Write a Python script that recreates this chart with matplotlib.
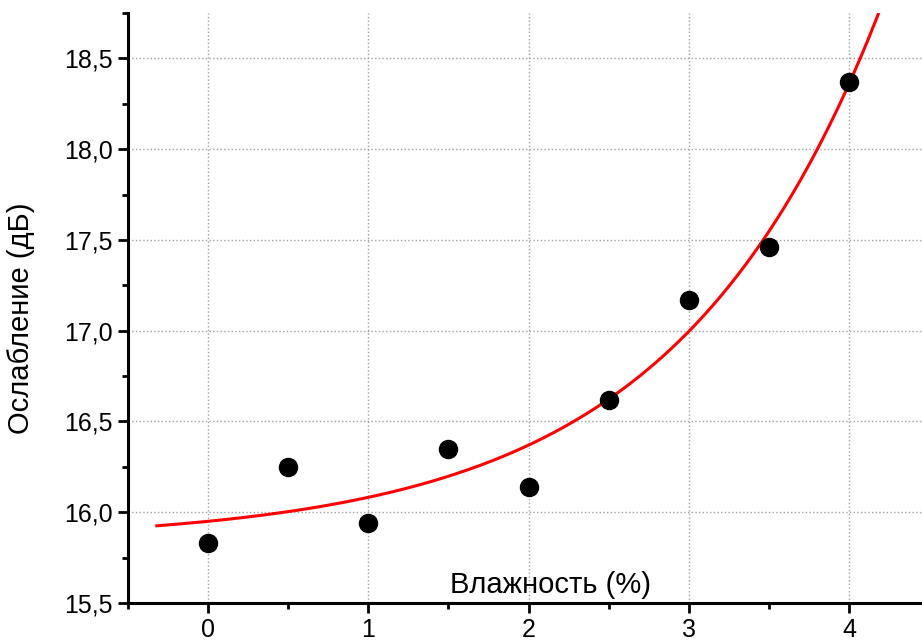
#!/usr/bin/python3
# -*- coding: utf-8 -*-

'''
Attenuation vs humidity with exponential fit
'''

import numpy as np
import matplotlib
matplotlib.use('Agg')
import matplotlib.pyplot as plt
from matplotlib.ticker import MultipleLocator, FuncFormatter

# Measured points
humidity = [0.0, 0.5, 1.0, 1.5, 2.0, 2.5, 3.0, 3.5, 4.0]
attenuation = [15.83, 16.25, 15.94, 16.35, 16.14, 16.62, 17.17, 17.46, 18.37]

x_ticks = [0, 1, 2, 3, 4]
y_ticks = [15.5, 16.0, 16.5, 17.0, 17.5, 18.0, 18.5]


def exp_fit(x, y):
    '''
    Least squares fit of y = y0 + A*exp(x/t), grid search over t
    '''
    x = np.asarray(x)
    y = np.asarray(y)
    best = None
    for t in np.linspace(0.3, 5, 2000):
        m = np.column_stack([np.ones_like(x), np.exp(x / t)])
        coef, *_ = np.linalg.lstsq(m, y, rcond=None)
        err = np.sum((m @ coef - y) ** 2)
        if best is None or err < best[0]:
            best = (err, coef[0], coef[1], t)
    return best[1:]


def main():
    '''
    Main function
    '''
    plt.rcParams['font.family'] = ['Liberation Sans', 'DejaVu Sans']
    fig = plt.figure(figsize=(9.22, 6.41), dpi=100)
    ax = fig.add_axes([128 / 922, 1 - 603 / 641, 1 - 128 / 922, (603 - 13) / 641])

    y0, a, t = exp_fit(humidity, attenuation)
    xs = np.linspace(-0.32, 4.4, 300)
    ax.plot(xs, y0 + a * np.exp(xs / t), color='red', lw=2.2, zorder=3)
    ax.plot(humidity, attenuation, 'o', color='black', ms=13, zorder=4)

    ax.set_xlim(-0.5, 4.455)
    ax.set_ylim(15.5, 18.75)
    ax.set_xticks(x_ticks)
    ax.set_yticks(y_ticks)
    ax.xaxis.set_minor_locator(MultipleLocator(0.5))
    ax.yaxis.set_minor_locator(MultipleLocator(0.25))
    ax.yaxis.set_major_formatter(FuncFormatter(lambda v, p: ('%.1f' % v).replace('.', ',')))

    for side in ('top', 'right'):
        ax.spines[side].set_visible(False)
    for side in ('left', 'bottom'):
        ax.spines[side].set_linewidth(2.2)
    ax.tick_params(which='major', direction='out', length=7, width=2, labelsize=18, pad=4)
    ax.tick_params(which='minor', direction='out', length=4, width=2)
    ax.grid(True, which='major', color='#a0a0a0', linestyle=':', lw=1)
    ax.set_axisbelow(True)

    ax.set_ylabel('Ослабление (дБ)', fontsize=21)
    ax.yaxis.set_label_coords(-0.117, 0.483)
    ax.text(0.5315, 0.017, 'Влажность (%)', transform=ax.transAxes,
            fontsize=21, ha='center', va='baseline')

    fig.savefig('out.png', dpi=100)


if __name__ == '__main__':
    main()
